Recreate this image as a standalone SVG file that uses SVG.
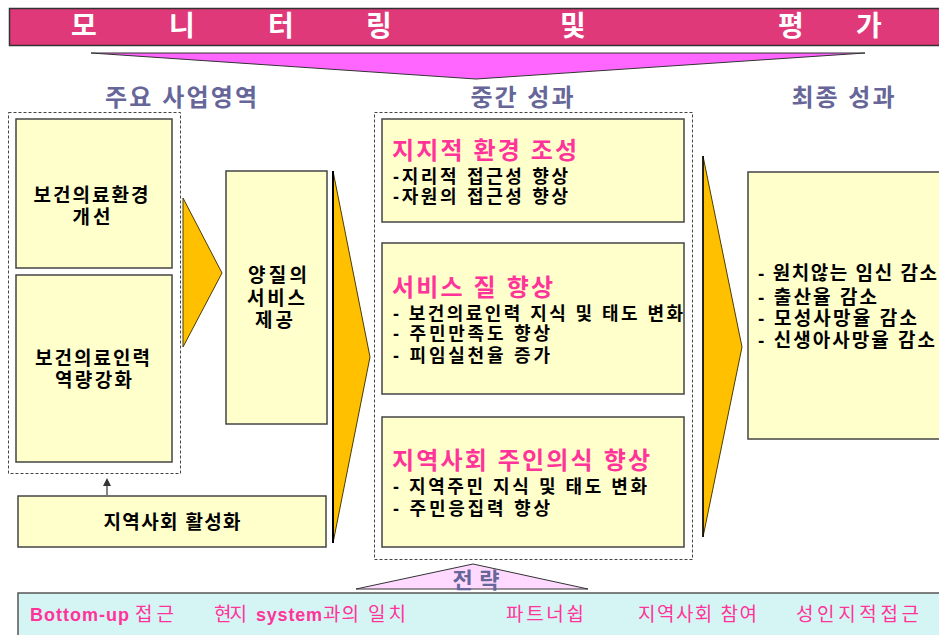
<svg xmlns="http://www.w3.org/2000/svg" width="939" height="635" viewBox="0 0 939 635">
<defs>
<style>
text{font-family:"Liberation Sans","Noto Sans CJK KR",sans-serif;}
.box{fill:#FFFFCC;stroke:#444;stroke-width:1.5;}
.dash{fill:none;stroke:#444;stroke-width:1;stroke-dasharray:3,2;}
.arrow{fill:#FFC000;stroke:#4a3c00;stroke-width:1;}
.hd{font-size:24px;font-weight:bold;fill:#666699;text-anchor:middle;}
.nt{font-size:19px;font-weight:bold;fill:#000;text-anchor:middle;}
.pt{font-size:24px;font-weight:bold;fill:#FF3399;}
.ln{font-size:18px;font-weight:bold;fill:#000;}
.rl{font-size:19px;font-weight:bold;fill:#000;}
.tt{font-size:28px;font-weight:bold;fill:#fff;text-anchor:middle;}
.bt{font-size:19px;fill:#FF3399;}
.btb{font-size:18px;font-weight:bold;fill:#FF3399;}
</style>
<marker id="ah" markerWidth="8" markerHeight="8" refX="4" refY="4" orient="auto" markerUnits="userSpaceOnUse">
<path d="M0,0 L8,4 L0,8 Z" fill="#333"/>
</marker>
</defs>
<rect width="939" height="635" fill="#fff"/>

<g id="title">
<rect x="9.5" y="8.5" width="940" height="37" fill="#E0397A" stroke="#333" stroke-width="1.5"/>
<text class="tt" x="84" y="36">모</text>
<text class="tt" x="182" y="36">니</text>
<text class="tt" x="281" y="36">터</text>
<text class="tt" x="379" y="36">링</text>
<text class="tt" x="573" y="36">및</text>
<text class="tt" x="791" y="36">평</text>
<text class="tt" x="869" y="36">가</text>
</g>
<g id="monitor-triangle">
<polygon points="91,53 865,53 476,79" fill="#FF66FF" stroke="#333" stroke-width="1"/>
</g>

<g id="headers">
<text class="hd" x="181" y="106" textLength="152" lengthAdjust="spacing">주요 사업영역</text>
<text class="hd" x="522" y="106" textLength="103" lengthAdjust="spacing">중간 성과</text>
<text class="hd" x="843" y="106" textLength="103" lengthAdjust="spacing">최종 성과</text>
</g>

<g id="main-areas">
<rect class="dash" x="8.5" y="112.5" width="172" height="361"/>
</g>
<g id="node-env">
<rect class="box" x="16" y="119" width="156" height="149"/>
<text class="nt" x="91" y="202" textLength="115" lengthAdjust="spacing">보건의료환경</text>
<text class="nt" x="91.5" y="224" textLength="38" lengthAdjust="spacing">개선</text>
</g>
<g id="node-staff">
<rect class="box" x="16" y="275" width="156" height="187"/>
<text class="nt" x="92.5" y="365" textLength="115" lengthAdjust="spacing">보건의료인력</text>
<text class="nt" x="93.5" y="387" textLength="77" lengthAdjust="spacing">역량강화</text>
</g>
<g id="node-quality">
<rect class="box" x="226" y="171" width="101" height="253"/>
<text class="nt" x="277.5" y="282" textLength="59" lengthAdjust="spacing">양질의</text>
<text class="nt" x="276" y="305" textLength="58" lengthAdjust="spacing">서비스</text>
<text class="nt" x="274" y="327" textLength="38" lengthAdjust="spacing">제공</text>
</g>
<g id="node-community">
<rect class="box" x="18" y="496" width="308" height="51"/>
<text class="nt" x="172" y="529" textLength="137" lengthAdjust="spacing">지역사회 활성화</text>
</g>

<g id="intermediate">
<rect class="dash" x="374.5" y="112.5" width="318" height="447"/>
</g>
<g id="node-support">
<rect class="box" x="382" y="119" width="302" height="103"/>
<text class="pt" x="392" y="159" textLength="185" lengthAdjust="spacing">지지적 환경 조성</text>
<text class="ln" x="393" y="183" textLength="175" lengthAdjust="spacing">-지리적 접근성 향상</text>
<text class="ln" x="393" y="203" textLength="175" lengthAdjust="spacing">-자원의 접근성 향상</text>
</g>
<g id="node-service">
<rect class="box" x="382" y="243" width="302" height="151"/>
<text class="pt" x="392" y="296" textLength="161" lengthAdjust="spacing">서비스 질 향상</text>
<text class="ln" x="393" y="320" textLength="290" lengthAdjust="spacing">- 보건의료인력 지식 및 태도 변화</text>
<text class="ln" x="393" y="340" textLength="157" lengthAdjust="spacing">- 주민만족도 향상</text>
<text class="ln" x="393" y="362" textLength="157" lengthAdjust="spacing">- 피임실천율 증가</text>
</g>
<g id="node-ownership">
<rect class="box" x="382" y="417" width="302" height="130"/>
<text class="pt" x="392" y="469" textLength="258" lengthAdjust="spacing">지역사회 주인의식 향상</text>
<text class="ln" x="393" y="493" textLength="254" lengthAdjust="spacing">- 지역주민 지식 및 태도 변화</text>
<text class="ln" x="393" y="515" textLength="157" lengthAdjust="spacing">- 주민응집력 향상</text>
</g>

<g id="node-final">
<rect class="box" x="748" y="172" width="200" height="267"/>
<text class="rl" x="758" y="280" textLength="179" lengthAdjust="spacing">- 원치않는 임신 감소</text>
<text class="rl" x="758" y="304" textLength="119" lengthAdjust="spacing">- 출산율 감소</text>
<text class="rl" x="758" y="325" textLength="159" lengthAdjust="spacing">- 모성사망율 감소</text>
<text class="rl" x="758" y="347" textLength="177" lengthAdjust="spacing">- 신생아사망율 감소</text>
</g>

<g id="connectors">
<polygon class="arrow" points="183,198 222,273 183,347"/>
<polygon class="arrow" points="333,171 370,357 333,543"/>
<line x1="333" y1="171" x2="333" y2="543" stroke="#000" stroke-width="2"/>
<polygon class="arrow" points="703,156 742,347 703,537"/>
<line x1="703" y1="156" x2="703" y2="537" stroke="#000" stroke-width="1.5"/>
<line x1="107" y1="495" x2="107" y2="482" stroke="#333" stroke-width="1.2" marker-end="url(#ah)"/>
</g>

<g id="strategy">
<polygon points="356,589 473,564 588,589" fill="#FFD9FF" stroke="#333" stroke-width="1"/>
<text x="476" y="588" font-size="22" font-weight="bold" fill="#666699" text-anchor="middle" textLength="47" lengthAdjust="spacing">전략</text>
</g>

<g id="strategy-bar">
<rect x="18" y="593" width="930" height="50" fill="#D5F5F4" stroke="#555" stroke-width="1.5"/>
<text class="btb" x="30" y="621" textLength="99" lengthAdjust="spacing">Bottom-up</text>
<text class="bt" x="135" y="621" textLength="39" lengthAdjust="spacing">접근</text>
<text class="bt" x="214" y="621" textLength="33" lengthAdjust="spacing">현지</text>
<text class="btb" x="256" y="621" textLength="66" lengthAdjust="spacing">system</text>
<text class="bt" x="323" y="621" textLength="36" lengthAdjust="spacing">과의</text>
<text class="bt" x="368" y="621" textLength="38" lengthAdjust="spacing">일치</text>
<text class="bt" x="506" y="621" textLength="78" lengthAdjust="spacing">파트너쉽</text>
<text class="bt" x="638" y="621" textLength="119" lengthAdjust="spacing">지역사회 참여</text>
<text class="bt" x="796" y="621" textLength="123" lengthAdjust="spacing">성인지적접근</text>
</g>
</svg>
